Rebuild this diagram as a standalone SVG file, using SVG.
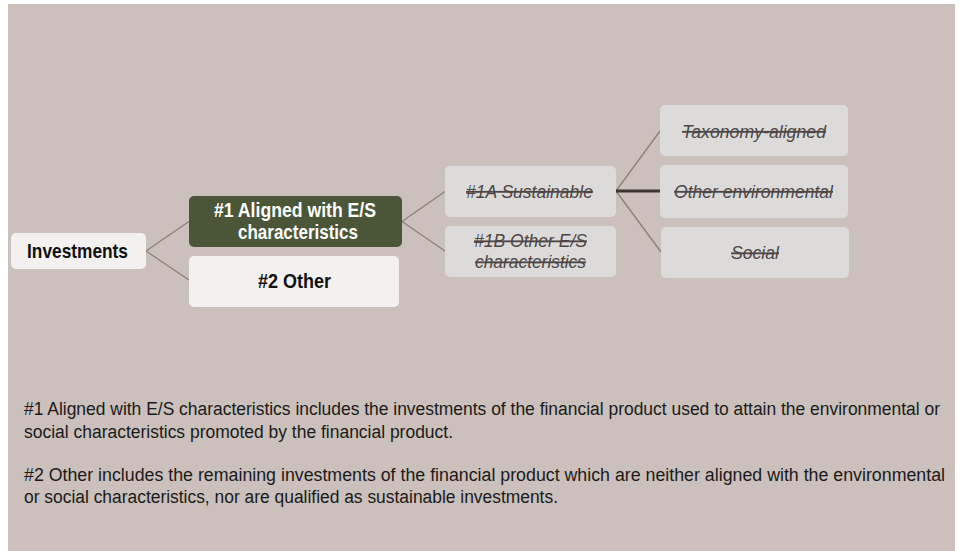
<svg xmlns="http://www.w3.org/2000/svg" width="960" height="551" viewBox="0 0 960 551">
<style>
.bg{fill:#CBC0BB}
.light{fill:#F2F1F0}
.dark{fill:#4B5639}
.grey{fill:#DCDBDA}
.b{font-family:"Liberation Sans",Arial,sans-serif;font-weight:bold;font-size:20.5px;text-anchor:middle}
.i{font-family:"Liberation Sans",Arial,sans-serif;font-style:italic;font-size:18.5px;fill:#4E4646;text-decoration:line-through}
.f{font-family:"Liberation Sans",Arial,sans-serif;font-size:18px;fill:#1A1A1A}
.c{stroke:#8E7F76;stroke-width:1.3;fill:none}
</style>
<rect class="bg" x="8" y="4" width="947" height="547"/>
<g id="connectors">
<path class="c" d="M146,251 L189,221.5 M146,251 L189,280"/>
<path class="c" d="M402,221.5 L445,191.5 M402,221.5 L445,251"/>
<path class="c" d="M616,191 L660,131 M616,191 L661,252"/>
<path d="M616,191 L660,191" stroke="#3D3430" stroke-width="3" fill="none"/>
</g>
<g id="investments">
<rect class="light" x="11" y="233" width="135" height="36" rx="5"/>
<text class="b" x="77.5" y="257.5" fill="#111" textLength="101" lengthAdjust="spacingAndGlyphs">Investments</text>
</g>
<g id="aligned">
<rect class="dark" x="189" y="196" width="213" height="51" rx="5"/>
<text class="b" x="295" y="217" fill="#FFFFFF" textLength="162" lengthAdjust="spacingAndGlyphs">#1 Aligned with E/S</text>
<text class="b" x="298" y="238.5" fill="#FFFFFF" textLength="120" lengthAdjust="spacingAndGlyphs">characteristics</text>
</g>
<g id="other">
<rect class="light" x="189" y="256" width="210" height="51" rx="5"/>
<text class="b" x="294.5" y="287.5" fill="#111" textLength="73" lengthAdjust="spacingAndGlyphs">#2 Other</text>
</g>
<g id="sustainable">
<rect class="grey" x="445" y="166" width="171" height="51" rx="5"/>
<text class="i" x="466" y="197.5" textLength="127" lengthAdjust="spacingAndGlyphs">#1A Sustainable</text>
</g>
<g id="other-es">
<rect class="grey" x="445" y="226" width="171" height="51" rx="5"/>
<text class="i" x="474" y="247" textLength="113" lengthAdjust="spacingAndGlyphs">#1B Other E/S</text>
<text class="i" x="475" y="268" textLength="111" lengthAdjust="spacingAndGlyphs">characteristics</text>
</g>
<g id="taxonomy">
<rect class="grey" x="660" y="105" width="188" height="51" rx="5"/>
<text class="i" x="682" y="137.5" textLength="144" lengthAdjust="spacingAndGlyphs">Taxonomy-aligned</text>
</g>
<g id="other-env">
<rect class="grey" x="660" y="165" width="188" height="53" rx="5"/>
<text class="i" x="674" y="197.5" textLength="159" lengthAdjust="spacingAndGlyphs">Other environmental</text>
</g>
<g id="social">
<rect class="grey" x="661" y="227" width="188" height="51" rx="5"/>
<text class="i" x="731" y="259" textLength="48" lengthAdjust="spacingAndGlyphs">Social</text>
</g>
<g id="footnotes">
<text class="f" x="24" y="415" textLength="916" lengthAdjust="spacingAndGlyphs">#1 Aligned with E/S characteristics includes the investments of the financial product used to attain the environmental or</text>
<text class="f" x="24" y="437.5" textLength="429" lengthAdjust="spacingAndGlyphs">social characteristics promoted by the financial product.</text>
<text class="f" x="24" y="481" textLength="921" lengthAdjust="spacingAndGlyphs">#2 Other includes the remaining investments of the financial product which are neither aligned with the environmental</text>
<text class="f" x="24" y="503" textLength="534" lengthAdjust="spacingAndGlyphs">or social characteristics, nor are qualified as sustainable investments.</text>
</g>
</svg>
